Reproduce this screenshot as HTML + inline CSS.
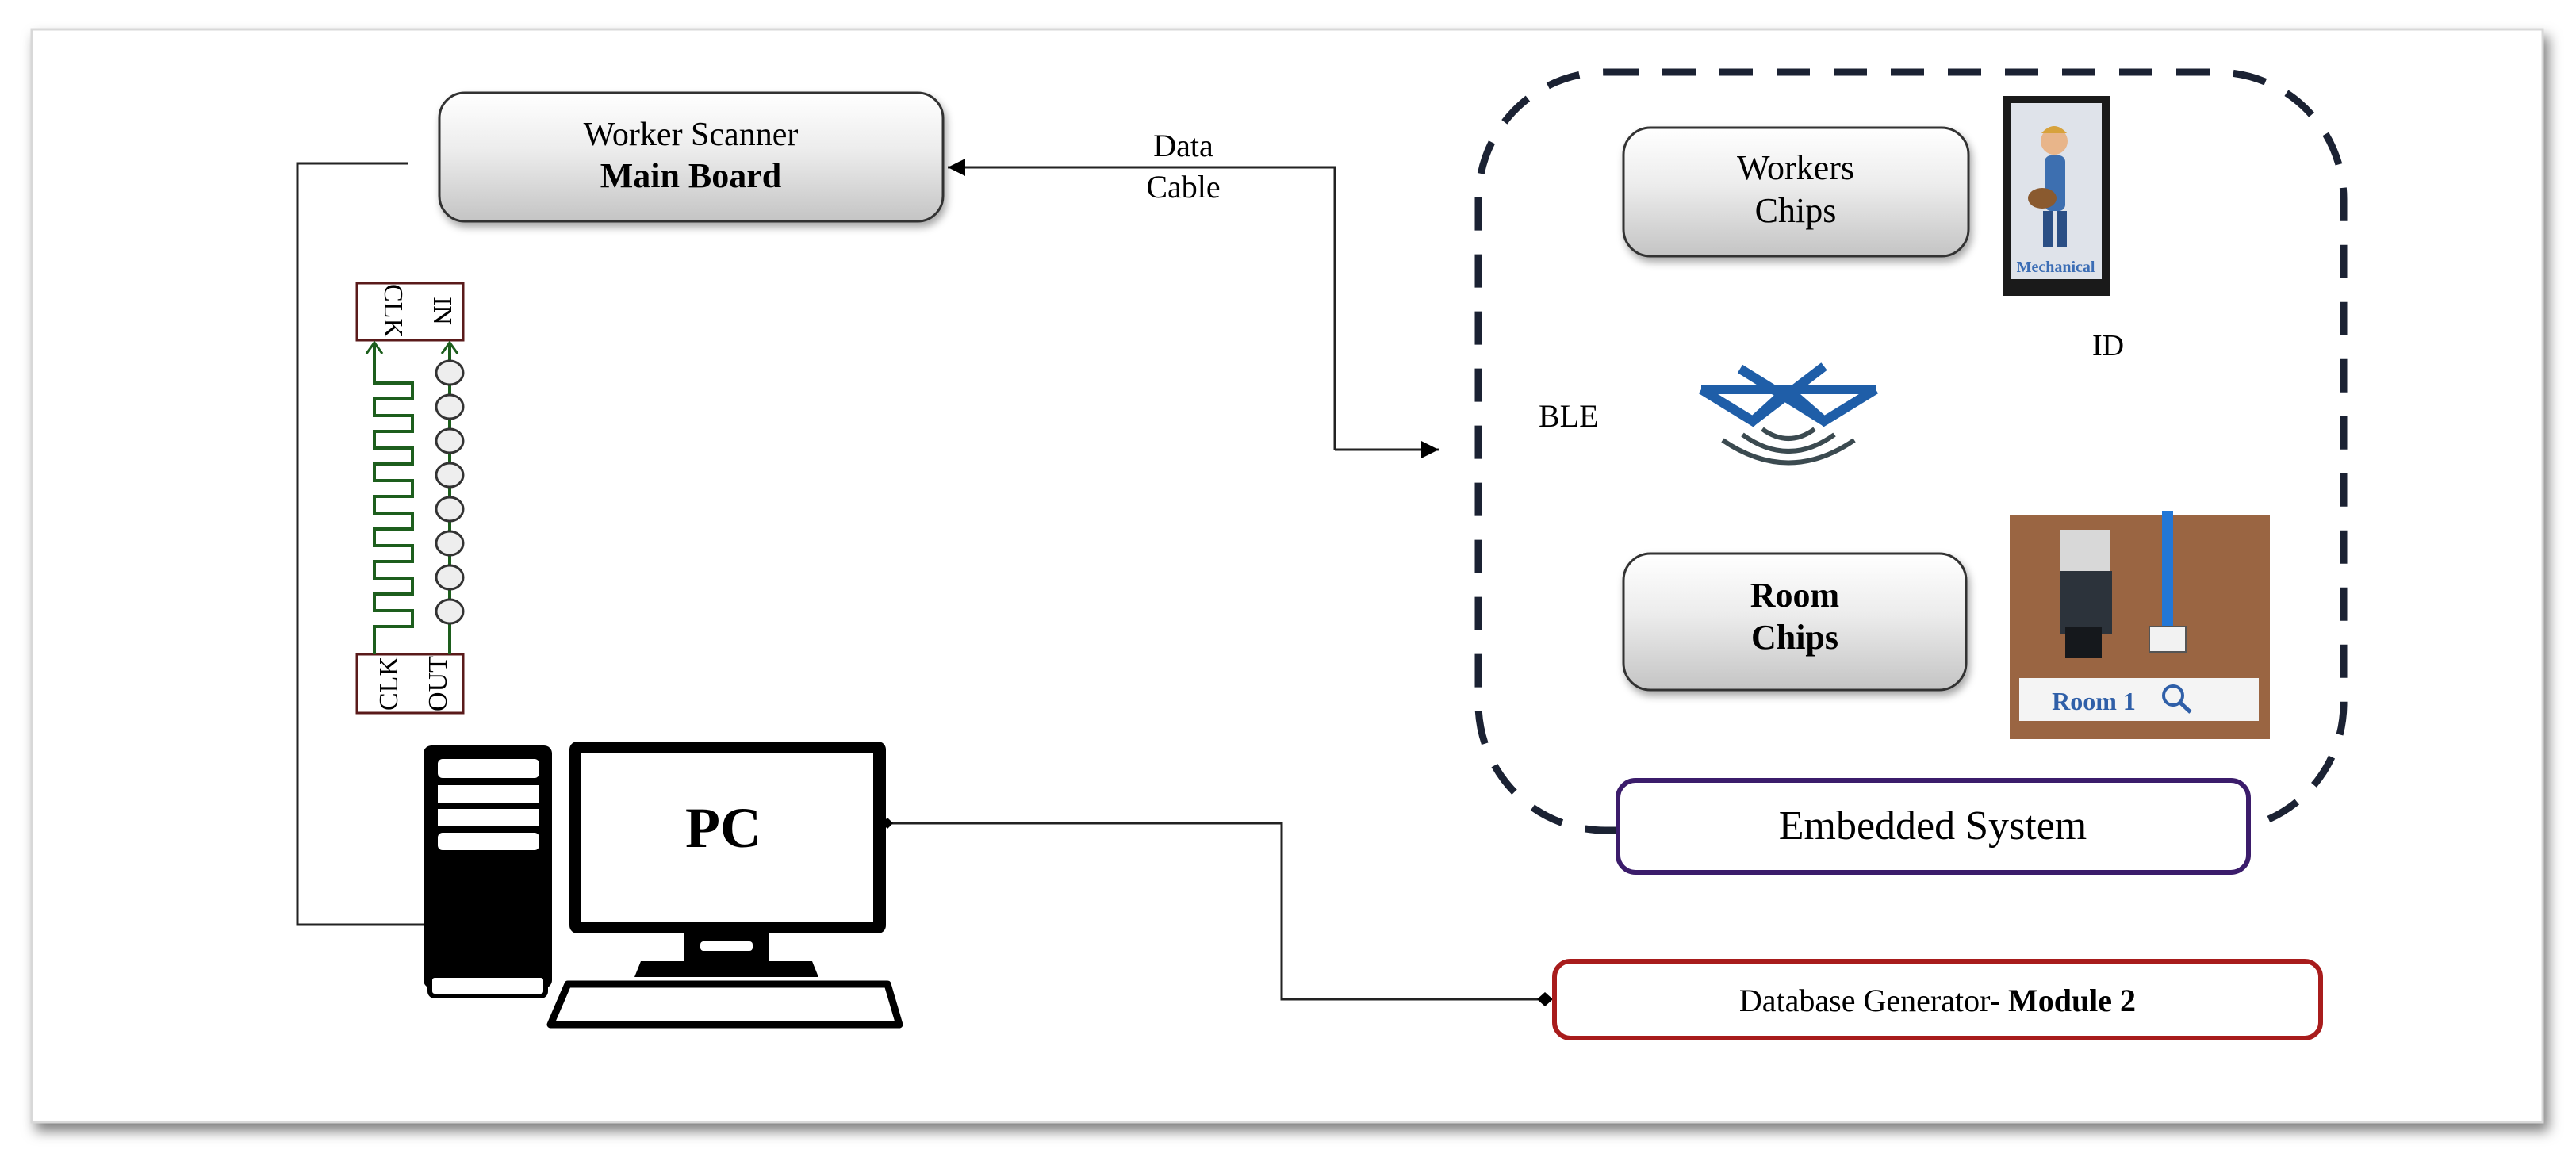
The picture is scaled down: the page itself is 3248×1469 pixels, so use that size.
<!DOCTYPE html>
<html><head><meta charset="utf-8"><style>
html,body{margin:0;padding:0;background:#fff;}
svg{display:block;}
text{font-family:"Liberation Serif",serif;}
</style></head><body>
<svg width="3248" height="1469" viewBox="0 0 3248 1469" xmlns="http://www.w3.org/2000/svg">
<defs>
<linearGradient id="g" x1="0" y1="0" x2="0" y2="1">
<stop offset="0" stop-color="#ffffff"/><stop offset="0.45" stop-color="#ececec"/><stop offset="1" stop-color="#c4c4c4"/>
</linearGradient>
<filter id="sh" x="-10%" y="-10%" width="125%" height="130%"><feDropShadow dx="3" dy="6" stdDeviation="5" flood-color="#000" flood-opacity="0.35"/></filter>
<filter id="fsh" x="-5%" y="-5%" width="110%" height="110%"><feDropShadow dx="6" dy="10" stdDeviation="8" flood-color="#000" flood-opacity="0.5"/></filter>
<marker id="ar2" viewBox="0 0 10 10" markerWidth="28" markerHeight="22" refX="10" refY="5" orient="auto" markerUnits="userSpaceOnUse"><path d="M0,0 L10,5 L0,10 Z" fill="#000"/></marker>
</defs>
<rect x="40" y="37" width="3166" height="1378" fill="#fff" stroke="#d8d8d8" stroke-width="3" filter="url(#fsh)"/>

<rect x="554" y="117" width="635" height="162" rx="32" fill="url(#g)" stroke="#333" stroke-width="3" filter="url(#sh)"/>
<text x="871" y="183" font-size="42" text-anchor="middle">Worker Scanner</text>
<text x="871" y="236" font-size="44" font-weight="bold" text-anchor="middle">Main Board</text>

<polyline points="515,206 375,206 375,1166 534,1166" fill="none" stroke="#222" stroke-width="3"/>

<polyline points="1683,567 1683,211 1195,211" fill="none" stroke="#222" stroke-width="3" marker-end="url(#ar2)"/>
<line x1="1683" y1="567" x2="1814" y2="567" stroke="#222" stroke-width="3" marker-end="url(#ar2)"/>
<text x="1492" y="197" font-size="40" text-anchor="middle">Data</text>
<text x="1492" y="249" font-size="40" text-anchor="middle">Cable</text>

<rect x="450" y="357" width="134" height="72" fill="#fff" stroke="#5a1a1a" stroke-width="3"/>
<rect x="450" y="825" width="134" height="74" fill="#fff" stroke="#5a1a1a" stroke-width="3"/>
<text transform="translate(493,392) rotate(90)" font-family="Liberation Mono,monospace" font-size="34" text-anchor="middle" dominant-baseline="middle">CLK</text>
<text transform="translate(555,392) rotate(90)" font-family="Liberation Mono,monospace" font-size="34" text-anchor="middle" dominant-baseline="middle">IN</text>
<text transform="translate(493,862) rotate(-90)" font-family="Liberation Mono,monospace" font-size="34" text-anchor="middle" dominant-baseline="middle">CLK</text>
<text transform="translate(555,862) rotate(-90)" font-family="Liberation Mono,monospace" font-size="34" text-anchor="middle" dominant-baseline="middle">OUT</text>
<path d="M472,825 L472,790 L520,790 L520,770 L472,770 L472,749 L520,749 L520,729 L472,729 L472,708 L520,708 L520,688 L472,688 L472,667 L520,667 L520,647 L472,647 L472,626 L520,626 L520,606 L472,606 L472,585 L520,585 L520,565 L472,565 L472,544 L520,544 L520,524 L472,524 L472,503 L520,503 L520,483 L472,483 L472,432" fill="none" stroke="#1d5e1d" stroke-width="4"/>
<path d="M462,446 L472,432 L482,446" fill="none" stroke="#1d5e1d" stroke-width="3"/>
<line x1="567" y1="825" x2="567" y2="432" stroke="#1d5e1d" stroke-width="4"/>
<path d="M557,446 L567,432 L577,446" fill="none" stroke="#1d5e1d" stroke-width="3"/>
<g fill="#eee" stroke="#333" stroke-width="3">
<ellipse cx="567" cy="470" rx="17" ry="15"/><ellipse cx="567" cy="513" rx="17" ry="15"/><ellipse cx="567" cy="556" rx="17" ry="15"/><ellipse cx="567" cy="599" rx="17" ry="15"/><ellipse cx="567" cy="642" rx="17" ry="15"/><ellipse cx="567" cy="685" rx="17" ry="15"/><ellipse cx="567" cy="728" rx="17" ry="15"/><ellipse cx="567" cy="771" rx="17" ry="15"/>
</g>

<rect x="534" y="940" width="162" height="306" rx="10" fill="#000"/>
<rect x="542" y="1230" width="146" height="26" rx="6" fill="#fff" stroke="#000" stroke-width="6"/>
<rect x="552" y="957" width="128" height="24" rx="6" fill="#fff"/>
<rect x="552" y="990" width="128" height="22" fill="#fff"/>
<rect x="552" y="1020" width="128" height="22" fill="#fff"/>
<rect x="552" y="1050" width="128" height="22" rx="6" fill="#fff"/>
<rect x="718" y="935" width="399" height="242" rx="10" fill="#000"/>
<rect x="733" y="950" width="368" height="212" fill="#fff"/>
<rect x="863" y="1176" width="106" height="40" fill="#000"/>
<rect x="883" y="1187" width="66" height="12" rx="4" fill="#fff"/>
<path d="M800,1232 L808,1212 L1024,1212 L1032,1232 Z" fill="#000"/>
<path d="M716,1241 L1119,1241 L1134,1292 L694,1292 Z" fill="#fff" stroke="#000" stroke-width="9" stroke-linejoin="round"/>
<text x="912" y="1068" font-size="72" font-weight="bold" text-anchor="middle">PC</text>

<polyline points="1119,1038 1616,1038 1616,1260 1950,1260" fill="none" stroke="#222" stroke-width="3"/>
<path d="M1112,1038 L1119,1031 L1126,1038 L1119,1045 Z" fill="#000"/>
<path d="M1938,1260 L1948,1251 L1958,1260 L1948,1269 Z" fill="#000"/>

<rect x="1864" y="91" width="1091" height="956" rx="160" fill="none" stroke="#1b2233" stroke-width="9" stroke-dasharray="42,30"/>

<rect x="2047" y="161" width="435" height="162" rx="34" fill="url(#g)" stroke="#333" stroke-width="3" filter="url(#sh)"/>
<text x="2264" y="226" font-size="44" text-anchor="middle">Workers</text>
<text x="2264" y="280" font-size="44" text-anchor="middle">Chips</text>
<rect x="2525" y="121" width="135" height="252" fill="#1a1a1a"/>
<rect x="2535" y="130" width="115" height="222" fill="#dfe3ea"/>
<circle cx="2590" cy="178" r="17" fill="#e8b58a"/>
<path d="M2574,168 Q2590,150 2606,168 Z" fill="#d7a23c"/>
<rect x="2578" y="196" width="26" height="70" rx="8" fill="#3d6fb0"/>
<rect x="2576" y="266" width="12" height="46" fill="#2b4f85"/>
<rect x="2594" y="266" width="12" height="46" fill="#2b4f85"/>
<ellipse cx="2575" cy="250" rx="18" ry="13" fill="#8a5a2f"/>
<text x="2592" y="343" font-family="Liberation Sans,sans-serif" font-size="20" font-weight="bold" fill="#3b6db5" text-anchor="middle">Mechanical</text>
<text x="2658" y="448" font-size="38" text-anchor="middle">ID</text>

<text x="1940" y="538" font-size="40">BLE</text>
<g>
<path d="M2145,491 L2365,491" fill="none" stroke="#1f5ea8" stroke-width="12"/>
<path d="M2145,491 L2210,531 L2254,491 M2194,465 L2300,531 M2300,462 L2210,531 M2254,491 L2300,531 L2365,491" fill="none" stroke="#1f5ea8" stroke-width="12"/>
<path d="M2222,541 Q2255,565 2288,541" fill="none" stroke="#3b4a50" stroke-width="6"/>
<path d="M2197,548 Q2255,590 2313,548" fill="none" stroke="#3b4a50" stroke-width="6"/>
<path d="M2172,555 Q2255,612 2338,555" fill="none" stroke="#3b4a50" stroke-width="6"/>
</g>

<rect x="2047" y="698" width="432" height="172" rx="34" fill="url(#g)" stroke="#333" stroke-width="3" filter="url(#sh)"/>
<text x="2263" y="765" font-size="44" font-weight="bold" text-anchor="middle">Room</text>
<text x="2263" y="818" font-size="44" font-weight="bold" text-anchor="middle">Chips</text>
<rect x="2534" y="649" width="328" height="283" fill="#9a6542"/>
<rect x="2598" y="668" width="62" height="58" fill="#d8d8d8"/>
<rect x="2597" y="720" width="66" height="80" fill="#2c333b"/>
<rect x="2604" y="790" width="46" height="40" fill="#15181c"/>
<rect x="2726" y="644" width="14" height="150" fill="#2377d6"/>
<rect x="2710" y="790" width="46" height="32" fill="#f2f2f2" stroke="#555" stroke-width="2"/>
<rect x="2546" y="855" width="302" height="54" fill="#f4f4f4"/>
<text x="2640" y="895" font-family="Liberation Sans,sans-serif" font-size="32" font-weight="bold" fill="#2f5fa8" text-anchor="middle">Room 1</text>
<circle cx="2740" cy="877" r="12" fill="none" stroke="#2f5fa8" stroke-width="4"/>
<line x1="2749" y1="886" x2="2762" y2="898" stroke="#2f5fa8" stroke-width="5"/>

<rect x="2040" y="984" width="795" height="116" rx="22" fill="#fff" stroke="#3b1c6b" stroke-width="6"/>
<text x="2437" y="1058" font-size="52" text-anchor="middle">Embedded System</text>

<rect x="1960" y="1212" width="966" height="97" rx="20" fill="#fff" stroke="#a81c1c" stroke-width="6"/>
<text x="2443" y="1275" font-size="40" text-anchor="middle">Database Generator- <tspan font-weight="bold">Module 2</tspan></text>
</svg>
</body></html>
